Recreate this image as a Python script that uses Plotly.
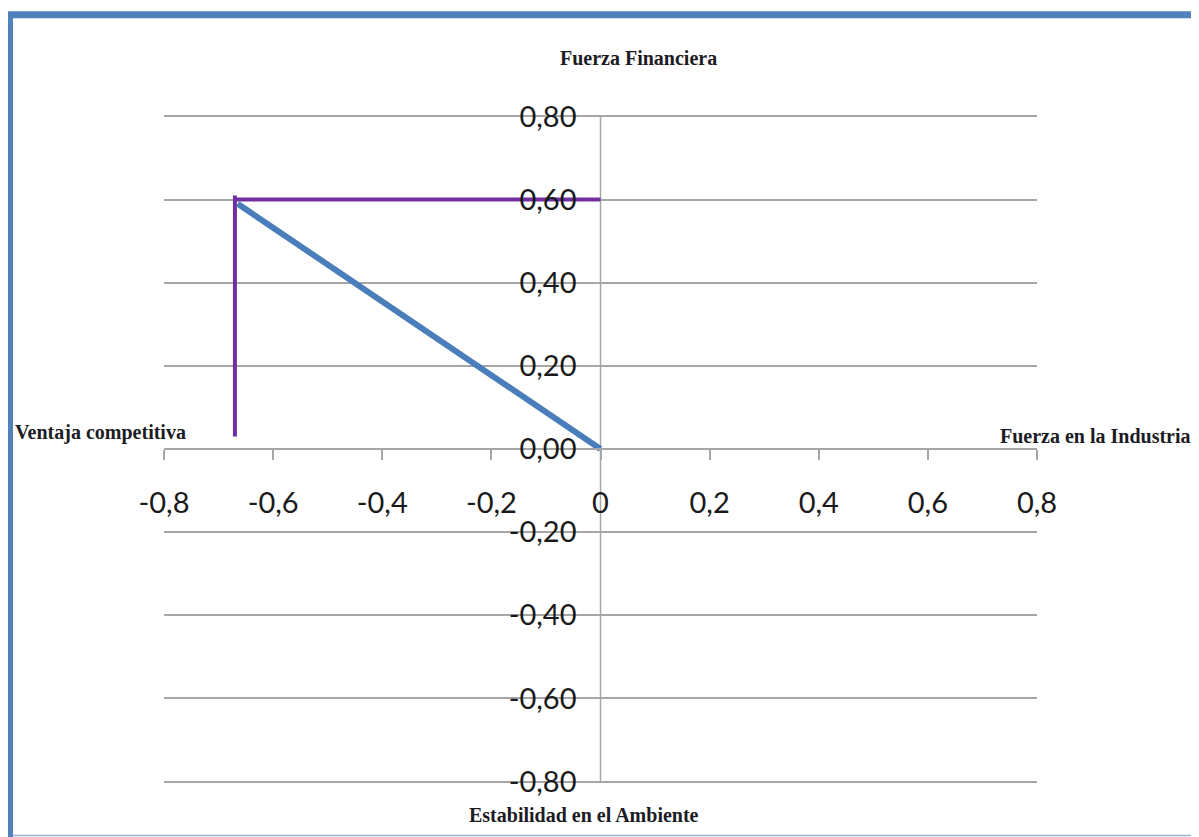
import plotly.graph_objects as go

# Data
x_ticks = [-0.8, -0.6, -0.4, -0.2, 0, 0.2, 0.4, 0.6, 0.8]
x_tick_labels = ["-0,8", "-0,6", "-0,4", "-0,2", "0", "0,2", "0,4", "0,6", "0,8"]
y_ticks = [-0.8, -0.6, -0.4, -0.2, 0, 0.2, 0.4, 0.6, 0.8]
y_tick_labels = ["-0,80", "-0,60", "-0,40", "-0,20", "0,00", "0,20", "0,40", "0,60", "0,80"]

# purple frame lines (vertical + horizontal)
purple_v_x = [-0.67, -0.67]
purple_v_y = [0.03, 0.61]
purple_h_x = [-0.67, 0.0]
purple_h_y = [0.60, 0.60]

# blue vector
blue_x = [-0.665, 0.0]
blue_y = [0.59, 0.0]

W, H = 1199, 837
OFF = 8  # page body margin shifts the figure by 8px
Y_PAD = 0.006  # small extra y range so the outer grid lines are drawn
Y_SCALE = (782 - 116) / 1.6  # px per unit on y
L, T = 164 - OFF, 116 - OFF - Y_PAD * Y_SCALE
R = W - (1037 - OFF)
B = H - (782 - OFF) - Y_PAD * Y_SCALE
PW, PH = W - L - R, H - T - B


def px(x, y):
    # reference pixel -> paper coordinates
    return (x - OFF - L) / PW, (H - B - (y - OFF)) / PH


fig = go.Figure()

fig.add_trace(go.Scatter(x=purple_v_x, y=purple_v_y, mode="lines",
                         line=dict(color="#7030a0", width=4), showlegend=False, hoverinfo="skip"))
fig.add_trace(go.Scatter(x=purple_h_x, y=purple_h_y, mode="lines",
                         line=dict(color="#7030a0", width=4), showlegend=False, hoverinfo="skip"))
fig.add_trace(go.Scatter(x=blue_x, y=blue_y, mode="lines",
                         line=dict(color="#4a7ebb", width=6), showlegend=False, hoverinfo="skip"))

grey = "#a6a6a6"
tick_font = dict(family="Lato, 'Noto Sans', sans-serif", size=29, color="#1a1a1a")
title_font = dict(family="'Liberation Serif', 'DejaVu Serif', serif", size=20, color="#1c1c24")

fig.update_layout(
    width=W,
    height=H,
    margin=dict(l=L, r=R, t=T, b=B),
    paper_bgcolor="white",
    plot_bgcolor="white",
    showlegend=False,
    xaxis=dict(
        range=[-0.8, 0.8],
        anchor="free",
        position=0.5,
        showgrid=False,
        zeroline=False,
        showline=True,
        linecolor=grey,
        linewidth=1.5,
        ticks="outside",
        ticklen=10,
        tickcolor=grey,
        tickwidth=1.5,
        tickvals=x_ticks,
        ticktext=x_tick_labels,
        tickfont=tick_font,
        ticklabelstandoff=18,
    ),
    yaxis=dict(
        range=[-0.8 - Y_PAD, 0.8 + Y_PAD],
        anchor="free",
        position=0.5,
        showgrid=True,
        gridcolor=grey,
        gridwidth=1.5,
        zeroline=False,
        showline=False,
        ticks="",
        tickvals=y_ticks,
        ticktext=y_tick_labels,
        tickfont=tick_font,
        ticklabelstandoff=24,
    ),
)

# the vertical axis line runs only from -0.8 to 0.8
fig.add_shape(type="line", xref="x", yref="y", x0=0, x1=0, y0=-0.8, y1=0.8,
              line=dict(color=grey, width=1.5), layer="below")

# axis titles around the quadrant (paper coordinates from reference pixels)
titles = [
    ("Fuerza Financiera", 638, 57, "center"),
    ("Ventaja competitiva", 13, 432, "left"),
    ("Fuerza en la Industria", 1193, 436, "right"),
    ("Estabilidad en el Ambiente", 584, 816, "center"),
]
for text, tx, ty, anchor in titles:
    ax, ay = px(tx, ty)
    fig.add_annotation(text=f"<b>{text}</b>", x=ax, y=ay, xref="paper", yref="paper",
                       showarrow=False, font=title_font, xanchor=anchor, yanchor="middle")

# blue frame around the whole picture
x0, y0 = px(9.5, 14)
x1, y1 = px(1199, 845)
fig.add_shape(type="rect", xref="paper", yref="paper", x0=x0, y0=y1, x1=x1, y1=y0,
              line=dict(color="#4f81bd", width=7), fillcolor="rgba(0,0,0,0)", layer="above")
bx0, by = px(13, 836)
bx1, _ = px(1195, 836)
fig.add_shape(type="line", xref="paper", yref="paper", x0=bx0, y0=by, x1=bx1, y1=by,
              line=dict(color="#95b3d7", width=1.5))

fig.write_html("out.html")
